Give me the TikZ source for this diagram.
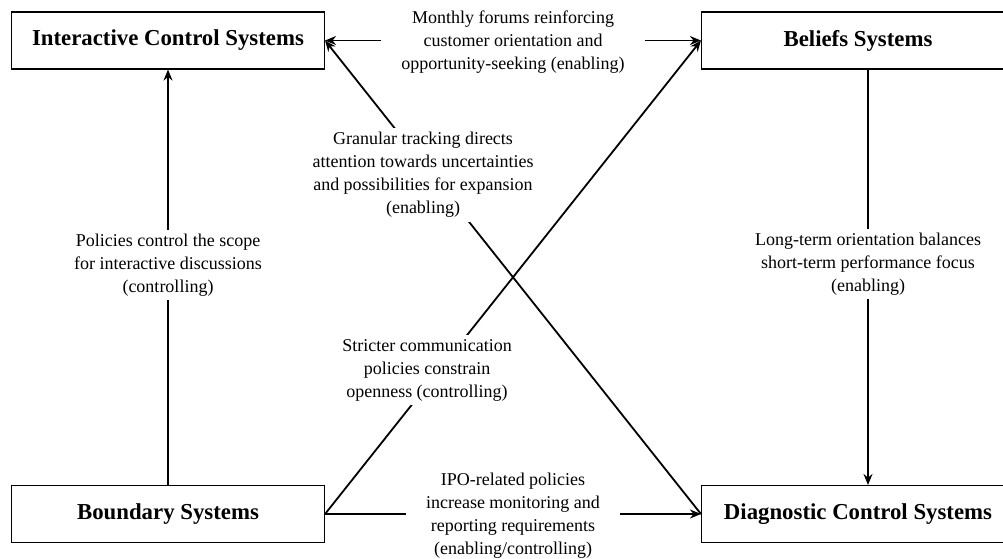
\documentclass[tikz,border=0pt]{standalone}
\usepackage{fontspec}
\setmainfont{Liberation Serif}
\usetikzlibrary{arrows.meta}
\begin{document}
\begin{tikzpicture}[x=1pt,y=-1pt,
 sysbox/.style={draw,line width=1.1pt,minimum width=313pt,minimum height=57pt,font=\fontsize{22.8}{26}\selectfont\bfseries,inner sep=0pt},
 lab/.style={fill=white,align=center,font=\fontsize{18}{23}\selectfont,inner xsep=20pt,inner ysep=4pt},
 conn/.style={line width=1.8pt,-{Stealth[length=11pt,width=9pt]}},
 conn2/.style={line width=1.8pt,{Stealth[length=11pt,width=9pt]}-{Stealth[length=11pt,width=9pt]}}]
\useasboundingbox (0,0) rectangle (1003,558);
\clip (0,0) rectangle (1003,558);
\node[sysbox] (ics) at (168,40.5) {Interactive Control Systems};
\node[sysbox] (bel) at (858,40.5) {Beliefs Systems};
\node[sysbox] (bnd) at (168,514) {Boundary Systems};
\node[sysbox] (diag) at (858,514) {Diagnostic Control Systems};
% connectors
\draw[conn2] (ics.east) -- (bel.west);
\draw[conn] (bnd.east) -- (diag.west);
\draw[conn] (bnd.north) -- (ics.south);
\draw[conn] ([xshift=10pt]bel.south) -- ([xshift=10pt]diag.north);
\draw[conn] (diag.west) -- (ics.east);
\draw[conn] (bnd.east) -- (bel.west);
% labels
\node[lab] (l1) at (513,42) {Monthly forums reinforcing\\customer orientation and\\opportunity-seeking (enabling)};
\node[lab] (l2) at (513,515.5) {IPO-related policies\\increase monitoring and\\reporting requirements\\(enabling/controlling)};
\node[lab] (l3) at (168,265) {Policies control the scope\\for interactive discussions\\(controlling)};
\node[lab] (l4) at (868,264) {Long-term orientation balances\\short-term performance focus\\(enabling)};
\node[lab] (l5) at (423,175) {Granular tracking directs\\attention towards uncertainties\\and possibilities for expansion\\(enabling)};
\node[lab] (l6) at (427,370) {Stricter communication\\policies constrain\\openness (controlling)};
\end{tikzpicture}
\end{document}
